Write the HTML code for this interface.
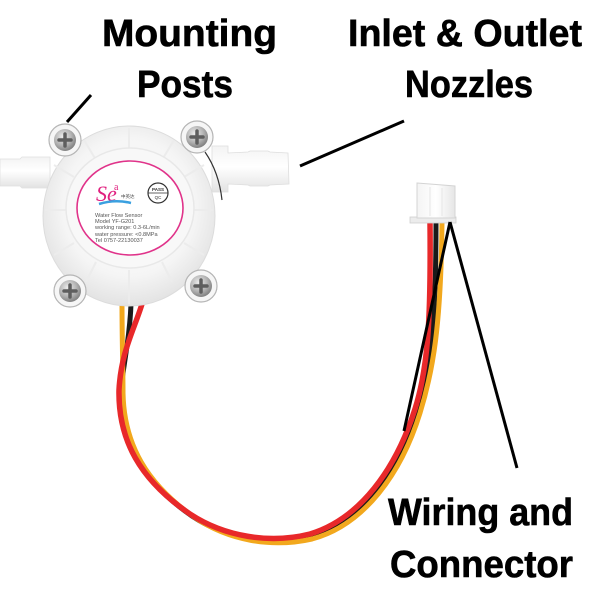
<!DOCTYPE html>
<html><head><meta charset="utf-8"><style>
html,body{margin:0;padding:0;background:#fff;}
svg{display:block;}
</style></head><body>
<svg width="600" height="600" viewBox="0 0 600 600" xmlns="http://www.w3.org/2000/svg">
<defs>
<radialGradient id="bodyG" cx="0.5" cy="0.45" r="0.55">
<stop offset="0" stop-color="#ffffff"/>
<stop offset="0.7" stop-color="#f5f5f5"/>
<stop offset="1" stop-color="#e3e3e3"/>
</radialGradient>
<linearGradient id="nozG" x1="0" y1="0" x2="0" y2="1">
<stop offset="0" stop-color="#f3f3f3"/>
<stop offset="0.45" stop-color="#ffffff"/>
<stop offset="1" stop-color="#e2e2e2"/>
</linearGradient>
<radialGradient id="screwG" cx="0.4" cy="0.35" r="0.75">
<stop offset="0" stop-color="#eeeeee"/>
<stop offset="0.55" stop-color="#b0b0b0"/>
<stop offset="1" stop-color="#707070"/>
</radialGradient>
<linearGradient id="conG" x1="0" y1="0" x2="1" y2="0">
<stop offset="0" stop-color="#f4f4f4"/>
<stop offset="0.5" stop-color="#ffffff"/>
<stop offset="1" stop-color="#e6e6e6"/>
</linearGradient>
</defs>

<!-- wires -->
<path d="M131,304 C130,330 126,352 122,380 C118,440 142,482 192,516 C228,540 272,546 310,538 C362,523 399,472 418,412 C431,370 436,322 436,222" fill="none" stroke="#1a1a1a" stroke-width="5"/>
<path d="M122,304 C122,340 123,368 123,393 C124,445 147,484 194,517 C229,541 272,548 312,539 C364,525 401,474 420,413 C433,371 441,326 442,222" fill="none" stroke="#f2a81d" stroke-width="5"/>
<path d="M142,304 C134,330 121,352 119,390 C118,440 140,480 190,514 C225,537 270,544 310,534 C360,519 396,469 415,409 C428,368 431,320 430,222" fill="none" stroke="#e8282a" stroke-width="5.5"/>

<!-- connector -->
<rect x="410" y="217" width="46" height="6" fill="#ececec" stroke="#cfcfcf" stroke-width="0.8"/>
<path d="M417,183 L455,186 L455,218 L417,218 Z" fill="url(#conG)" stroke="#d4d4d4" stroke-width="1"/>
<line x1="430" y1="187" x2="430" y2="216" stroke="#e6e6e6" stroke-width="1"/>
<line x1="442" y1="188" x2="442" y2="216" stroke="#e6e6e6" stroke-width="1"/>

<!-- left nozzle -->
<path d="M0,159 L20,159 L22,157 L50,157 L50,188 L22,188 L20,186 L0,186 Z" fill="url(#nozG)" stroke="#e0e0e0" stroke-width="0.8"/>
<!-- right nozzle -->
<path d="M212,146 L228,146 L228,153 L248,152 L250,151 L268,151 L270,152 L288,153 L289,184 L270,185 L268,186 L250,186 L248,185 L228,184 L228,192 L212,192 Z" fill="url(#nozG)" stroke="#dedede" stroke-width="0.8"/>

<!-- body -->
<ellipse cx="129" cy="216" rx="86" ry="90" fill="url(#bodyG)" stroke="#dcdcdc" stroke-width="1"/>
<path d="M205,152 C214,165 220,182 222,200" fill="none" stroke="#333" stroke-width="1.2"/>
<g stroke="#ececec" stroke-width="2">
<line x1="129" y1="150" x2="129" y2="128"/>
<line x1="96" y1="160" x2="84" y2="140"/>
<line x1="162" y1="160" x2="174" y2="140"/>
<line x1="67" y1="210" x2="45" y2="210"/>
<line x1="191" y1="210" x2="213" y2="210"/>
<line x1="74" y1="243" x2="54" y2="255"/>
<line x1="184" y1="243" x2="204" y2="255"/>
<line x1="96" y1="262" x2="86" y2="282"/>
<line x1="162" y1="262" x2="172" y2="282"/>
<line x1="129" y1="270" x2="129" y2="304"/>
<line x1="74" y1="177" x2="54" y2="165"/>
<line x1="184" y1="177" x2="204" y2="165"/>
</g>
<ellipse cx="130" cy="208" rx="64" ry="60" fill="#f8f8f8" stroke="#e8e8e8" stroke-width="1.5"/>

<!-- label -->
<ellipse cx="130" cy="208" rx="53" ry="47" fill="#ffffff" stroke="#e0338a" stroke-width="1.6"/>
<text x="96" y="201" font-family="'Liberation Serif',serif" font-size="22" fill="#e0207f" font-style="italic">Se</text>
<text x="114" y="190" font-family="'Liberation Serif',serif" font-size="10" fill="#e0207f">a</text>
<path d="M99,204 Q115,199 131,203" fill="none" stroke="#3aa0e0" stroke-width="2.5"/>
<text x="121" y="198" font-family="'Liberation Sans','Noto Sans CJK SC',sans-serif" font-size="4.5" fill="#444">中英达</text>
<circle cx="158" cy="193" r="10" fill="none" stroke="#333" stroke-width="1.2"/>
<line x1="148" y1="193" x2="168" y2="193" stroke="#333" stroke-width="0.8"/>
<text x="158" y="191" text-anchor="middle" font-family="'Liberation Sans',sans-serif" font-size="4.5" font-weight="bold" fill="#333">PASS</text>
<text x="158" y="199" text-anchor="middle" font-family="'Liberation Sans',sans-serif" font-size="4.5" fill="#333">QC</text>
<g font-family="'Liberation Sans',sans-serif" font-size="5.6" fill="#555">
<text x="95" y="217">Water Flow Sensor</text>
<text x="95" y="223">Model YF-G201</text>
<text x="95" y="229">working range: 0.3-6L/min</text>
<text x="95" y="236">water pressure: &lt;0.8MPa</text>
<text x="95" y="242">Tel 0757-22130037</text>
</g>

<!-- screws -->
<g>
<circle cx="65" cy="140" r="16" fill="#f6f6f6" stroke="#b5b5b5" stroke-width="1.2"/>
<circle cx="65" cy="140" r="11" fill="url(#screwG)"/>
<path d="M59,140 L71,140 M65,134 L65,146" stroke="#5e5e5e" stroke-width="3.5" stroke-linecap="round"/>
<circle cx="197" cy="137" r="16" fill="#f6f6f6" stroke="#b5b5b5" stroke-width="1.2"/>
<circle cx="197" cy="137" r="11" fill="url(#screwG)"/>
<path d="M191,137 L203,137 M197,131 L197,143" stroke="#5e5e5e" stroke-width="3.5" stroke-linecap="round"/>
<circle cx="70" cy="291" r="16" fill="#f6f6f6" stroke="#b5b5b5" stroke-width="1.2"/>
<circle cx="70" cy="291" r="11" fill="url(#screwG)"/>
<path d="M64,291 L76,291 M70,285 L70,297" stroke="#5e5e5e" stroke-width="3.5" stroke-linecap="round"/>
<circle cx="201" cy="286" r="16" fill="#f6f6f6" stroke="#b5b5b5" stroke-width="1.2"/>
<circle cx="201" cy="286" r="11" fill="url(#screwG)"/>
<path d="M195,286 L207,286 M201,280 L201,292" stroke="#5e5e5e" stroke-width="3.5" stroke-linecap="round"/>
</g>

<!-- pointer lines -->
<g stroke="#000" stroke-width="3" stroke-linecap="butt">
<line x1="67" y1="122" x2="91" y2="95"/>
<line x1="300" y1="166" x2="404" y2="121"/>
<line x1="450" y1="222" x2="404" y2="431"/>
<line x1="450" y1="222" x2="517" y2="468"/>
</g>

<!-- labels -->
<g font-family="'Liberation Sans',sans-serif" font-weight="bold" font-size="38" fill="#000" stroke="#000" stroke-width="0.6">
<text x="102" y="46" textLength="175" lengthAdjust="spacingAndGlyphs">Mounting</text>
<text x="137" y="97" textLength="96" lengthAdjust="spacingAndGlyphs">Posts</text>
<text x="348" y="46" textLength="234" lengthAdjust="spacingAndGlyphs">Inlet &amp; Outlet</text>
<text x="405" y="97" textLength="128" lengthAdjust="spacingAndGlyphs">Nozzles</text>
<text x="388" y="525" textLength="185" lengthAdjust="spacingAndGlyphs">Wiring and</text>
<text x="390" y="577" textLength="183" lengthAdjust="spacingAndGlyphs">Connector</text>
</g>
</svg>
</body></html>
